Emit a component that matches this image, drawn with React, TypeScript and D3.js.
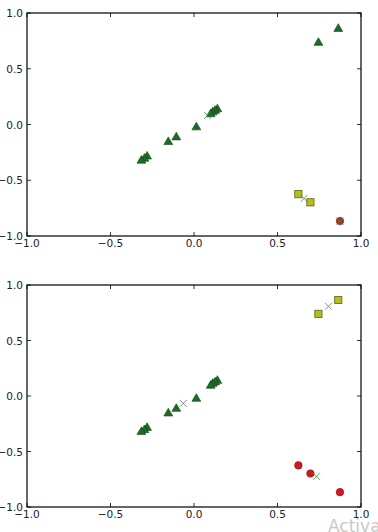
import React from "react";
import * as d3 from "d3";

// Point coordinates (same 15 points in both panels)
const pointX = [0.864, 0.745, 0.14, 0.126, 0.112, 0.1, 0.014, -0.106, -0.154, -0.281, -0.297, -0.315, 0.625, 0.697, 0.874];
const pointY = [0.865, 0.74, 0.144, 0.13, 0.117, 0.1, -0.018, -0.108, -0.15, -0.28, -0.3, -0.317, -0.625, -0.698, -0.866];

// Cluster assignment per panel: 0 = triangle, 1 = square, 2 = circle
const topClusters = [0, 0, 0, 0, 0, 0, 0, 0, 0, 0, 0, 0, 1, 1, 2];
const bottomClusters = [1, 1, 0, 0, 0, 0, 0, 0, 0, 0, 0, 0, 2, 2, 2];

// Cluster centre crosses per panel
const topCentreX = [0.082, 0.659, 0.874];
const topCentreY = [0.081, -0.663, -0.866];
const bottomCentreX = [-0.064, 0.805, 0.733];
const bottomCentreY = [-0.067, 0.808, -0.724];

const tickValues = [-1.0, -0.5, 0.0, 0.5, 1.0];
const tickLabels = ["\u22121.0", "\u22120.5", "0.0", "0.5", "1.0"];

const topColors = { tri: "#1e6b25", sq: "#b3bf1e", circ: "#a9301f" };
const bottomColors = { tri: "#1e6b25", sq: "#b3bf1e", circ: "#d01820" };
const topCrossColors = ["#3c8c3c", "#3c8c3c", "#3c8c3c"];
const bottomCrossColors = ["#707070", "#707070", "#3c9c3c"];

const LEFT = 27;
const RIGHT = 361;

function Panel({ top, bottom, clusters, cx, cy, colors, crossColors }: any) {
  const x = d3.scaleLinear().domain([-1, 1]).range([LEFT, RIGHT]);
  const y = d3.scaleLinear().domain([-1, 1]).range([bottom, top]);
  const tri = d3.symbol().type(d3.symbolTriangle).size(34)() as string;
  const font = { fontFamily: "DejaVu Sans", fontSize: 10.5, fill: "#222" };
  const tl = 4;
  return (
    <g>
      {pointX.map((px, i) => {
        const c = clusters[i];
        const X = x(px);
        const Y = y(pointY[i]);
        if (c === 0)
          return <path key={i} d={tri} transform={`translate(${X},${Y + 0.8})`} fill={colors.tri} stroke="#10401a" strokeWidth={0.6} />;
        if (c === 1)
          return <rect key={i} x={X - 3.6} y={Y - 3.6} width={7.2} height={7.2} fill={colors.sq} stroke="#5a6010" strokeWidth={0.8} />;
        return <circle key={i} cx={X} cy={Y} r={3.8} fill={colors.circ} stroke="#7a1010" strokeWidth={0.5} />;
      })}
      {cx.map((v: number, i: number) => {
        const X = x(v);
        const Y = y(cy[i]);
        const s = 3.5;
        return (
          <path key={"c" + i} d={`M${X - s},${Y - s}L${X + s},${Y + s}M${X - s},${Y + s}L${X + s},${Y - s}`} stroke={crossColors[i]} strokeWidth={0.8} fill="none" />
        );
      })}
      <rect x={LEFT} y={top} width={RIGHT - LEFT} height={bottom - top} fill="none" stroke="#000" strokeWidth={1.2} />
      {tickValues.map((t, i) => (
        <g key={"t" + i}>
          <line x1={x(t)} x2={x(t)} y1={bottom} y2={bottom - tl} stroke="#000" strokeWidth={0.8} />
          <line x1={x(t)} x2={x(t)} y1={top} y2={top + tl} stroke="#000" strokeWidth={0.8} />
          <line x1={LEFT} x2={LEFT + tl} y1={y(t)} y2={y(t)} stroke="#000" strokeWidth={0.8} />
          <line x1={RIGHT} x2={RIGHT - tl} y1={y(t)} y2={y(t)} stroke="#000" strokeWidth={0.8} />
          <text x={x(t)} y={bottom + 11} textAnchor="middle" {...font}>{tickLabels[i]}</text>
          <text x={LEFT - 4} y={y(t) + 4} textAnchor="end" {...font}>{tickLabels[i]}</text>
        </g>
      ))}
    </g>
  );
}

export default function App() {
  return (
    <svg width={378} height={532} style={{ position: "absolute", left: 0, top: 0, background: "#fff" }}>
      <rect width={378} height={532} fill="#fff" />
      <Panel top={13} bottom={236} clusters={topClusters} cx={topCentreX} cy={topCentreY} colors={topColors} crossColors={topCrossColors} />
      <Panel top={285} bottom={507} clusters={bottomClusters} cx={bottomCentreX} cy={bottomCentreY} colors={bottomColors} crossColors={bottomCrossColors} />
      <text x={328} y={532} fontFamily="DejaVu Sans" fontSize={17} fill="#c8c8c8">Activa</text>
    </svg>
  );
}
